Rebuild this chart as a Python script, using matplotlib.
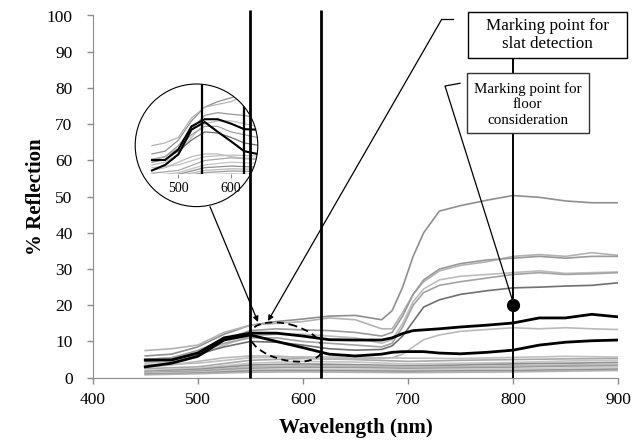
import matplotlib
matplotlib.use('Agg')
import matplotlib.pyplot as plt
from matplotlib.patches import Circle, Ellipse, Rectangle

plt.rcParams['font.family'] = ['Liberation Serif', 'DejaVu Serif']

# wavelength grid (nm) for the spectra
WL = [450, 475, 500, 525, 550, 575, 600, 625, 650, 675, 685,
      695, 705, 715, 730, 750, 775, 800, 825, 850, 875, 900]

refl_g1 = [6.0, 6.5, 8.5, 12.0, 14.5, 15.5, 16.2, 17.0, 17.2, 16.0, 18.5,
           25.0, 33.5, 40.0, 46.0, 47.5, 49.0, 50.3, 49.8, 48.8, 48.3, 48.3]
refl_g2 = [7.5, 8.0, 9.0, 12.5, 14.5, 15.0, 15.5, 16.5, 16.0, 13.5, 13.5,
           18.0, 23.0, 26.5, 29.5, 31.0, 32.0, 33.5, 34.0, 33.5, 34.5, 33.8]
refl_g3 = [5.0, 5.5, 7.5, 10.5, 13.0, 13.5, 13.2, 13.0, 12.5, 11.5, 12.5,
           17.0, 23.0, 27.0, 30.0, 31.5, 32.5, 33.0, 33.5, 33.0, 33.5, 33.5]
refl_g4 = [4.0, 4.5, 6.0, 9.0, 11.5, 12.0, 12.0, 11.5, 11.0, 9.5, 10.5,
           15.0, 21.0, 24.5, 27.0, 28.0, 28.5, 29.0, 29.5, 28.8, 29.0, 29.2]
refl_g5 = [5.0, 5.5, 7.0, 9.5, 11.0, 11.0, 10.0, 9.5, 9.0, 8.5, 9.5,
           14.0, 20.0, 23.5, 25.5, 26.5, 27.5, 28.5, 29.0, 28.5, 28.7, 29.0]
refl_g6 = [4.5, 5.0, 6.5, 8.5, 10.0, 9.8, 9.0, 8.0, 7.6, 7.8, 8.8,
           11.5, 15.5, 19.5, 21.5, 23.0, 24.0, 24.8, 25.0, 25.3, 25.5, 26.2]
refl_g7 = [3.0, 3.5, 4.5, 5.5, 6.0, 6.0, 5.5, 5.2, 5.2, 5.3, 5.5,
           6.5, 8.5, 10.5, 11.8, 12.8, 13.3, 13.8, 13.5, 13.8, 13.5, 13.3]
refl_black_a = [4.9, 4.9, 6.8, 11.0, 12.3, 12.3, 11.5, 10.5, 10.4, 10.4, 11.0,
                12.2, 13.0, 13.2, 13.5, 14.0, 14.5, 15.1, 16.5, 16.5, 17.5, 16.8]
refl_black_b = [3.0, 4.0, 5.9, 10.4, 11.8, 10.0, 8.3, 6.5, 6.0, 6.5, 7.0,
                7.2, 7.2, 7.2, 6.8, 6.6, 7.0, 7.6, 9.0, 9.8, 10.2, 10.4]

# low, flat spectra on a coarser grid
WL_LOW = [450, 500, 550, 600, 650, 700, 750, 800, 850, 900]
low_spectra = [
    [3.5, 4.0, 5.5, 5.8, 5.6, 5.4, 5.3, 5.6, 5.9, 5.7],
    [2.5, 3.0, 4.8, 5.3, 5.0, 4.5, 4.8, 5.0, 5.2, 5.3],
    [2.0, 2.6, 4.0, 4.5, 4.3, 3.8, 4.0, 4.2, 4.6, 4.8],
    [1.7, 2.3, 3.5, 3.8, 3.6, 3.3, 3.5, 3.8, 4.0, 4.2],
    [1.5, 2.0, 3.0, 3.3, 3.2, 3.0, 3.0, 3.3, 3.5, 3.7],
    [1.3, 1.8, 2.6, 2.9, 2.8, 2.6, 2.7, 2.9, 3.2, 3.3],
    [1.2, 1.5, 2.2, 2.4, 2.3, 2.2, 2.3, 2.5, 2.7, 2.9],
    [1.0, 1.3, 1.9, 2.0, 1.9, 1.8, 1.9, 2.0, 2.2, 2.4],
    [0.8, 1.1, 1.5, 1.6, 1.5, 1.4, 1.5, 1.6, 1.8, 2.0],
]
low_colors = ['#c0c0c0', '#a8a8a8', '#c4c4c4', '#8e8e8e', '#b9b9b9',
              '#9c9c9c', '#cccccc', '#909090', '#b0b0b0']

gray_spectra = [refl_g1, refl_g2, refl_g3, refl_g4, refl_g5, refl_g6, refl_g7]
gray_colors = ['#8f8f8f', '#b3b3b3', '#9a9a9a', '#bdbdbd', '#a3a3a3', '#707070', '#bababa']
black_spectra = [refl_black_a, refl_black_b]

MARK_WL = [550, 617]       # slat detection lines
FLOOR_WL = 800             # floor consideration line
FLOOR_PT = 20

W, H = 632, 444
fig = plt.figure(figsize=(W / 100, H / 100), dpi=100)


def fig_box(x0, y0, x1, y1):
    # pixel box (top-left origin) -> figure fraction rect
    return [x0 / W, 1 - y1 / H, (x1 - x0) / W, (y1 - y0) / H]


ax = fig.add_axes(fig_box(92.7, 15.5, 618, 377.7))
ax.set_zorder(1)
ax.patch.set_visible(False)


def draw_spectra(a, gray_lw, black_lw, clip=None):
    arts = []
    for vals, c in zip(low_spectra, low_colors):
        arts += a.plot(WL_LOW, vals, color=c, lw=gray_lw)
    for vals, c in zip(gray_spectra, gray_colors):
        arts += a.plot(WL, vals, color=c, lw=gray_lw)
    for vals in black_spectra:
        arts += a.plot(WL, vals, color='black', lw=black_lw)
    if clip is not None:
        for art in arts:
            art.set_clip_path(clip)


draw_spectra(ax, 1.2, 2.0)

ax.vlines(MARK_WL, 0, 101.5, colors='black', lw=2.0, clip_on=False, zorder=4)
ax.vlines(FLOOR_WL, 0, 88.2, colors='black', lw=1.4, clip_on=False, zorder=4)
ax.plot([FLOOR_WL], [FLOOR_PT], 'o', color='black', ms=8.5, zorder=5)

ax.set_xlim(400, 900)
ax.set_ylim(0, 100)
ax.set_xticks(range(400, 901, 100))
ax.set_yticks(range(0, 101, 10))
for s in ['top', 'right']:
    ax.spines[s].set_visible(False)
for s in ['left', 'bottom']:
    ax.spines[s].set_color('#8c8c8c')
ax.tick_params(direction='out', length=4, width=1, color='#8c8c8c', labelsize=12.5)
ax.tick_params(axis='x', pad=6.5)
ax.tick_params(axis='y', pad=10.5)

fig.text(36 / W, 1 - 197 / H, '% Reflection', rotation=90, ha='center', va='center',
         fontsize=15, fontweight='bold')
fig.text(356 / W, 1 - 428 / H, 'Wavelength (nm)', ha='center', va='center',
         fontsize=15, fontweight='bold')

# overlay in pixel coordinates for the annotation drawing
ov = fig.add_axes([0, 0, 1, 1])
ov.set_xlim(0, W)
ov.set_ylim(H, 0)
ov.axis('off')
ov.set_zorder(3)

cx, cy, r = 196.5, 145.3, 61.3
clip_circle = Circle((cx, cy), r, transform=ov.transData)

# zoomed inset
ins = fig.add_axes(fig_box(135.2, 84, 257.8, 174.3))
ins.set_zorder(0)
ins.patch.set_visible(False)
draw_spectra(ins, 0.9, 1.5, clip=clip_circle)
for xv in [545, 624]:
    ln = ins.axvline(xv, color='black', lw=1.6)
    ln.set_clip_path(clip_circle)
ins.set_xlim(418.2, 650.9)
ins.set_ylim(2.3, 18.7)
ins.set_xticks([500, 600])
ins.set_yticks([])
for s in ['top', 'right', 'left']:
    ins.spines[s].set_visible(False)
ins.spines['bottom'].set_color('#8c8c8c')
ins.spines['bottom'].set_clip_path(clip_circle)
ins.tick_params(axis='x', direction='out', length=3, color='#8c8c8c', labelsize=10, pad=2.5)

ov.add_patch(Circle((cx, cy), r, fill=False, edgecolor='black', lw=0.8))

# dashed ellipse around the slat detection region
ov.add_patch(Ellipse((286, 342), 74, 36, angle=14, fill=False, edgecolor='black',
                     lw=1.3, linestyle=(0, (4, 2.5))))

arrow_kw = dict(arrowstyle='-|>', lw=0.9, color='black', mutation_scale=8,
                shrinkA=0, shrinkB=0)
ov.plot([453.3, 441.7], [19.3, 19.3], color='black', lw=0.9)
ov.annotate('', xy=(268, 321), xytext=(441.7, 19.3), arrowprops=arrow_kw)
ov.annotate('', xy=(258, 322), xytext=(210, 206.7), arrowprops=arrow_kw)
ov.plot([460, 445, 513], [83.3, 86, 302], color='black', lw=0.9)

# label boxes
ov.add_patch(Rectangle((468.3, 12.3), 158.4, 46, facecolor='white', edgecolor='black', lw=1.0))
ov.text(547.5, 35.3, 'Marking point for\nslat detection', ha='center', va='center',
        fontsize=12.3, linespacing=1.2)
ov.add_patch(Rectangle((466.7, 72.7), 122.3, 60.6, facecolor='white', edgecolor='#333333', lw=1.0))
ov.text(527.8, 104.5, 'Marking point for\nfloor\nconsideration', ha='center', va='center',
        fontsize=10.8, linespacing=1.25)

fig.savefig('out.png', dpi=100)
